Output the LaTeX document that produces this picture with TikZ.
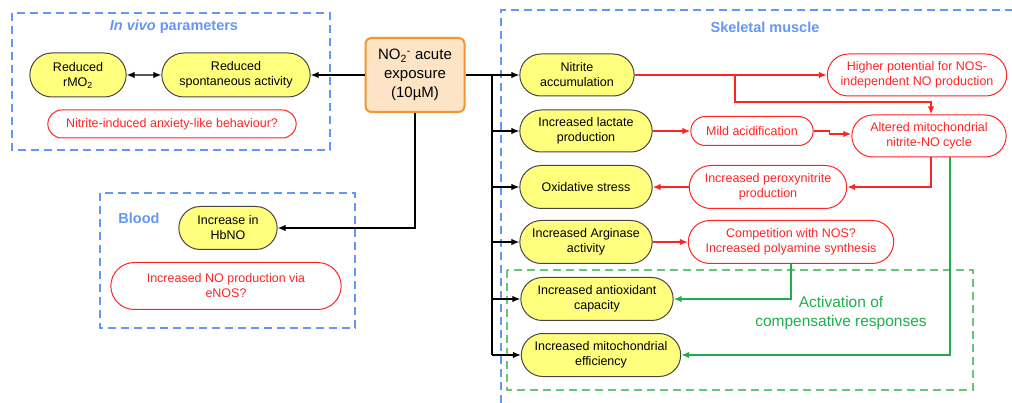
\documentclass[tikz,border=0pt]{standalone}
\usepackage{fontspec}
\setmainfont{Liberation Sans}
\usetikzlibrary{shapes.misc,arrows.meta}
\definecolor{pillyellow}{RGB}{255,255,125}
\definecolor{pillgray}{RGB}{70,70,70}
\definecolor{boxorange}{RGB}{240,150,50}
\definecolor{boxfill}{RGB}{252,228,196}
\definecolor{dashblue}{RGB}{100,150,245}
\definecolor{txtred}{RGB}{255,35,35}
\definecolor{arrgreen}{RGB}{30,175,75}
\definecolor{dashgreen}{RGB}{100,200,120}
\tikzset{
  yellowpill/.style={rounded rectangle, draw=pillgray, fill=pillyellow, line width=1pt,
    align=center, font=\fontsize{12.5}{15}\selectfont},
  redpill/.style={rounded rectangle, draw=txtred, line width=1pt, text=txtred,
    align=center, font=\fontsize{12.5}{15}\selectfont},
  groupbox/.style={draw=dashblue, line width=1.2pt, dash pattern=on 8pt off 5pt},
  grouptitle/.style={text=dashblue, font=\fontsize{14.5}{17}\selectfont\bfseries},
  blackarrow/.style={line width=1.3pt, -{Latex[length=8pt,width=6.5pt]}},
  redarrow/.style={draw=txtred, line width=1.5pt, -{Latex[length=8pt,width=6.5pt]}},
  greenarrow/.style={draw=arrgreen, line width=1.5pt, -{Latex[length=8pt,width=6.5pt]}},
}
\begin{document}
\begin{tikzpicture}[x=1pt,y=-1pt]
\useasboundingbox (0,0) rectangle (1012,403);
% group frames
\draw[groupbox] (12,13) rectangle (330,150);
\draw[groupbox] (100,193) rectangle (355,328);
\draw[groupbox] (501,403) -- (501,10) -- (1012,10);
\draw[draw=dashgreen, line width=1.3pt, dash pattern=on 8pt off 5pt] (507,270) rectangle (973,390);
\node[grouptitle] (vivotitle) at (174,27) {\textit{In vivo} parameters};
\node[grouptitle] (bloodtitle) at (139,218) {Blood};
\node[grouptitle] (muscletitle) at (765,27) {Skeletal muscle};
% exposure
\node[draw=boxorange, fill=boxfill, line width=2pt, rounded corners=6pt,
  minimum width=99, minimum height=74, align=center,
  font=\fontsize{15}{19}\selectfont] (no2) at (415,75)
  {NO\textsubscript{2}\textsuperscript{-} acute\\exposure\\(10\textmu M)};
% in vivo
\node[yellowpill, minimum width=103, minimum height=44] (rmo) at (78,75) {Reduced\\rMO\textsubscript{2}};
\node[yellowpill, minimum width=155, minimum height=44] (spont) at (236,75) {Reduced\\spontaneous activity};
\node[redpill, minimum width=255, minimum height=28] (anxiety) at (172,124) {Nitrite-induced anxiety-like behaviour?};
% blood
\node[yellowpill, minimum width=105, minimum height=43] (hbno) at (228,228) {Increase in\\HbNO};
\node[redpill, minimum width=237, minimum height=47] (enos) at (226,286) {Increased NO production via\\eNOS?};
% skeletal muscle
\node[yellowpill, minimum width=121, minimum height=42] (accum) at (577,75) {Nitrite\\accumulation};
\node[yellowpill, minimum width=139, minimum height=42] (lactate) at (586,131) {Increased lactate\\production};
\node[yellowpill, minimum width=139, minimum height=43] (oxstress) at (586,187) {Oxidative stress};
\node[yellowpill, minimum width=139, minimum height=43] (arginase) at (586,242) {Increased Arginase\\activity};
\node[yellowpill, minimum width=159, minimum height=43] (antiox) at (597,299) {Increased antioxidant\\capacity};
\node[yellowpill, minimum width=166, minimum height=43] (mitoeff) at (601,355) {Increased mitochondrial\\efficiency};
\node[redpill, minimum width=186, minimum height=42] (nosind) at (917,75) {Higher potential for NOS-\\independent NO production};
\node[redpill, minimum width=129, minimum height=29] (acid) at (752,131) {Mild acidification};
\node[redpill, minimum width=161, minimum height=42] (cycle) at (929,136) {Altered mitochondrial\\nitrite-NO cycle};
\node[redpill, minimum width=164, minimum height=43] (peroxy) at (768,187) {Increased peroxynitrite\\production};
\node[redpill, minimum width=212, minimum height=43] (compet) at (791,242) {Competition with NOS?\\Increased polyamine synthesis};
\node[text=arrgreen, align=center, font=\fontsize{15.5}{19}\selectfont] (compens) at (841,313)
  {Activation of\\compensative responses};
% black connectors
\draw[line width=1.3pt, {Latex[length=8pt,width=6.5pt]}-{Latex[length=8pt,width=6.5pt]}] (rmo) -- (spont);
\draw[blackarrow] (no2.west) -- (spont.east);
\draw[blackarrow] (no2.south) |- (hbno.east);
\coordinate (trunk) at (492,75);
\draw[line width=1.3pt] (no2.east) -- (trunk) -- (trunk |- mitoeff.west);
\foreach \n in {accum,lactate,oxstress,arginase,antiox,mitoeff}
  \draw[blackarrow] (trunk |- \n.west) -- (\n.west);
% red connectors
\coordinate (split) at (735,75);
\draw[redarrow] (accum.east) -- (nosind.west);
\draw[redarrow] (split) -- ++(0,27) -| ([xshift=2pt]cycle.north);
\draw[redarrow] (lactate.east) -- (acid.west);
\draw[redarrow] (acid.east) -- ++(16,0) -- ++(0,3) -- (cycle.west |- 0,134);
\draw[redarrow] ([xshift=2pt]cycle.south) |- (peroxy.east);
\draw[redarrow] (peroxy.west) -- (oxstress.east);
\draw[redarrow] (arginase.east) -- (compet.west);
% green connectors
\draw[greenarrow] (compet.south) |- (antiox.east);
\draw[greenarrow] ([xshift=21pt]cycle.south) |- (mitoeff.east);
\end{tikzpicture}
\end{document}
